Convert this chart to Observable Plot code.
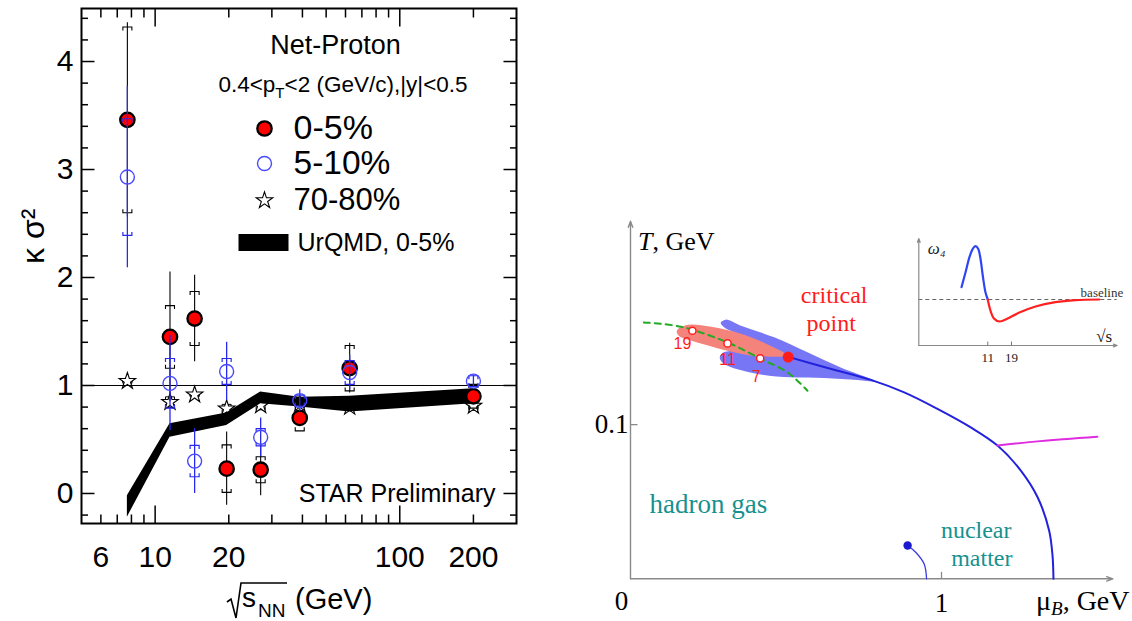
<!DOCTYPE html>
<html><head><meta charset="utf-8">
<script src="https://cdn.jsdelivr.net/npm/d3@7"></script>
<script src="https://cdn.jsdelivr.net/npm/@observablehq/plot@0.6"></script>
<style>
html,body{margin:0;padding:0;background:#fff;}
#wrap{position:relative;width:1132px;height:621px;overflow:hidden;background:#fff;}
#wrap svg{position:absolute;overflow:visible;}
</style></head><body><div id="wrap"></div>
<script>
// ================= DATA: left panel (net-proton kappa*sigma^2) =================
const energies      = [7.7, 11.5, 14.5, 19.6, 27, 39, 62.4, 200];
const central05     = [3.46, 1.45, 1.62, 0.23, 0.22, 0.70, 1.16, 0.90];
const central05Stat = [0.90, 0.60, 0.40, 0.34, 0.24, 0.07, 0.23, 0.05];
const central05Sys  = [0.86, 0.29, 0.25, 0.22, 0.12, 0.12, 0.21, 0.11];
const mid510        = [2.93, 1.02, 0.30, 1.13, 0.52, 0.86, 1.12, 1.04];
const mid510Stat    = [0.84, 0.44, 0.30, 0.27, 0.18, 0.10, 0.16, 0.05];
const mid510Sys     = [0.54, 0.23, 0.145, 0.12, 0.08, 0.05, 0.11, 0.05];
const periph7080    = [1.04, 0.845, 0.915, 0.785, 0.815, 0.83, 0.80, 0.81];
const periph7080Sys = [0.02, 0.05, 0.02, 0.04, 0.04, 0.03, 0.03, 0.04];
const urqmdEnergies = [7.7, 11.5, 19.6, 27, 39, 62.4, 200];
const urqmdLow      = [-0.22, 0.52, 0.63, 0.83, 0.80, 0.755, 0.83];
const urqmdHigh     = [-0.02, 0.645, 0.745, 0.94, 0.89, 0.90, 0.97];
const xMajorTicks = [10, 100];
const xMinorTicks = [6, 7, 8, 9, 20, 30, 40, 50, 60, 70, 80, 90, 200];
const xTickLabels = [6, 10, 20, 100, 200];
const yMajorTicks = [0, 1, 2, 3, 4];
const yMinorTicks = [-0.2, 0.2, 0.4, 0.6, 0.8, 1.2, 1.4, 1.6, 1.8, 2.2, 2.4, 2.6, 2.8, 3.2, 3.4, 3.6, 3.8, 4.2, 4.4];
const yTickLabels = [0, 1, 2, 3, 4];

// ================= DATA: right panel (phase diagram, [muB GeV, T GeV]) =================
const phaseBoundary = [[0.505,0.1441],[0.64,0.1364],[0.773,0.1290],[0.880,0.1209],[0.987,0.1102],[1.094,0.0982],[1.180,0.0864],[1.255,0.0702],[1.309,0.0529],[1.346,0.0313],[1.357,0.015],[1.360,0]];
const freezeOut = [[0.043,0.1663],[0.162,0.1635],[0.312,0.1533],[0.419,0.1426],[0.505,0.1339],[0.569,0.1220]];
const freezeLabels = ["19", "11", "7"];
const freezeMu = [0.199, 0.312, 0.417];
const freezeT = [0.1609, 0.1527, 0.1430];
const criticalPoint = [0.507, 0.1438];
const criticalBlueRegion = [[0.789,0.1280],[0.676,0.1371],[0.569,0.1469],[0.462,0.1566],[0.355,0.1642],[0.306,0.1681],[0.290,0.1661],[0.303,0.1629],[0.371,0.1570],[0.451,0.1486],[0.503,0.1447],[0.419,0.1466],[0.339,0.1479],[0.297,0.1466],[0.287,0.1434],[0.300,0.1395],[0.408,0.1329],[0.515,0.1307],[0.623,0.1303],[0.730,0.1290]];
const criticalRedRegion = [[0.149,0.1609],[0.178,0.1645],[0.259,0.1635],[0.355,0.1590],[0.436,0.1525],[0.506,0.1447],[0.451,0.1441],[0.371,0.1454],[0.274,0.1499],[0.194,0.1545],[0.155,0.1577]];
const magentaLine = [[1.180,0.0864],[1.317,0.0893],[1.501,0.0922]];
const nuclearLine = [[0.891,0.0216],[0.917,0.0172],[0.944,0.0097],[0.952,0]];
const nuclearPoint = [0.891, 0.0216];
const axisArrowsR = [{x1:0,y1:0,x2:0,y2:0.232},{x1:0,y1:0,x2:1.551,y2:0}];
const muTicks = [1];
const tTicks = [0.1];

// ================= DATA: inset (omega_4 vs sqrt(s)) =================
const insetBlueS = [6.0, 6.59, 7.21, 7.78, 8.28, 8.81, 9.30, 9.80, 10.43, 11];
const insetBlueW = [1.23, 2.73, 4.23, 5.07, 5.33, 5.07, 4.07, 2.4, 0.73, 0];
const insetRedS  = [11, 11.7, 12.6, 14.5, 17.2, 22.5, 33.1, 52.5, 83.2, 144.7];
const insetRedW  = [0, -1.1, -1.87, -2.2, -1.93, -1.33, -0.7, -0.27, -0.07, 0];
const insetTicks = [11, 19];
const insetAxes = [{x1:2.24,y1:-4.6,x2:2.24,y2:6.1},{x1:2.24,y1:-4.6,x2:218,y2:-4.6}];

// ================= helpers =================
const SANS = "'Liberation Sans', Arial, Helvetica, sans-serif";
const SERIF = "'Liberation Serif', 'Times New Roman', serif";
const sym = f => ({draw(c){ f(c); }});
const capTop = sym(c=>{c.moveTo(-4.5,3.5);c.lineTo(-4.5,0);c.lineTo(4.5,0);c.lineTo(4.5,3.5);});
const capBot = sym(c=>{c.moveTo(-4.5,-3.5);c.lineTo(-4.5,0);c.lineTo(4.5,0);c.lineTo(4.5,-3.5);});
const tickUp = L => sym(c=>{c.moveTo(0,0);c.lineTo(0,-L);});
const tickDown = L => sym(c=>{c.moveTo(0,0);c.lineTo(0,L);});
const tickRight = L => sym(c=>{c.moveTo(0,0);c.lineTo(L,0);});
const tickLeft = L => sym(c=>{c.moveTo(0,0);c.lineTo(-L,0);});
const swatch = sym(c=>{c.rect(-25,-8.5,50,17);});
const rich = build => () => { const g = d3.create("svg:g"); build(g); return g.node(); };
const MID = {lineAnchor: "middle"};

const rows = energies.map((e,i)=>({e, c:central05[i], cs:central05Stat[i], cy:central05Sys[i],
  m:mid510[i], ms:mid510Stat[i], my:mid510Sys[i], p:periph7080[i], py:periph7080Sys[i]}));
const band = urqmdEnergies.map((e,i)=>({e, lo:urqmdLow[i], hi:urqmdHigh[i]}));
const BLUE = "#2828f0", BLUEC = "#4848ff";
const tk = {stroke:"black", strokeWidth:1.5, fill:"none"};

// ================= LEFT PLOT =================
const left = Plot.plot({
  width: 560, height: 621,
  marginLeft: 81, marginRight: 44, marginTop: 8, marginBottom: 98,
  x: {type: "log", domain: [5, 300], axis: null},
  y: {domain: [-0.278, 4.491], axis: null},
  style: {background: "white", fontFamily: SANS, color: "black"},
  marks: [
    Plot.dot(rows, {x:"e", y:d=>d.p+d.py, symbol:capTop, stroke:"black", fill:"none", strokeWidth:1}),
    Plot.dot(rows, {x:"e", y:d=>d.p-d.py, symbol:capBot, stroke:"black", fill:"none", strokeWidth:1}),
    Plot.dot(rows, {x:"e", y:"p", symbol:"star", r:5.2, stroke:"black", fill:"white", strokeWidth:1.1}),
    Plot.areaY(band, {x:"e", y1:"lo", y2:"hi", fill:"black"}),
    Plot.ruleY([1], {stroke:"black", strokeWidth:1}),
    Plot.ruleX(rows, {x:"e", y1:d=>d.c-d.cs, y2:d=>d.c+d.cs, stroke:"black", strokeWidth:1.1}),
    Plot.dot(rows, {x:"e", y:d=>d.c+d.cy, symbol:capTop, stroke:"black", fill:"none", strokeWidth:1.1}),
    Plot.dot(rows, {x:"e", y:d=>d.c-d.cy, symbol:capBot, stroke:"black", fill:"none", strokeWidth:1.1}),
    Plot.dot(rows, {x:"e", y:"c", r:7.2, fill:"#ff0000", stroke:"black", strokeWidth:2.3}),
    Plot.ruleX(rows, {x:"e", y1:d=>d.m-d.ms, y2:d=>d.m+d.ms, stroke:BLUE, strokeWidth:1.3}),
    Plot.dot(rows, {x:"e", y:d=>d.m+d.my, symbol:capTop, stroke:BLUE, fill:"none", strokeWidth:1.2}),
    Plot.dot(rows, {x:"e", y:d=>d.m-d.my, symbol:capBot, stroke:BLUE, fill:"none", strokeWidth:1.2}),
    Plot.dot(rows, {x:"e", y:"m", r:7, fill:"none", stroke:BLUEC, strokeWidth:1.4}),
    Plot.frame({stroke:"black", strokeWidth:2}),
    Plot.dot(xMajorTicks, {x:d=>d, frameAnchor:"bottom", symbol:tickUp(18), ...tk}),
    Plot.dot(xMinorTicks, {x:d=>d, frameAnchor:"bottom", symbol:tickUp(9), ...tk}),
    Plot.dot(xMajorTicks, {x:d=>d, frameAnchor:"top", symbol:tickDown(18), ...tk}),
    Plot.dot(xMinorTicks, {x:d=>d, frameAnchor:"top", symbol:tickDown(9), ...tk}),
    Plot.dot(yMajorTicks, {y:d=>d, frameAnchor:"left", symbol:tickRight(13), ...tk}),
    Plot.dot(yMinorTicks, {y:d=>d, frameAnchor:"left", symbol:tickRight(6.5), ...tk}),
    Plot.dot(yMajorTicks, {y:d=>d, frameAnchor:"right", symbol:tickLeft(13), ...tk}),
    Plot.dot(yMinorTicks, {y:d=>d, frameAnchor:"right", symbol:tickLeft(6.5), ...tk}),
    Plot.text(xTickLabels, {x:d=>d, text:d=>String(d), frameAnchor:"bottom", dy:34, fontSize:30, fill:"black", ...MID}),
    Plot.text(yTickLabels, {y:d=>d, text:d=>String(d), frameAnchor:"left", dx:-8, textAnchor:"end", fontSize:30, fill:"black", ...MID}),
    Plot.text(["κ σ²"], {frameAnchor:"left", dx:-48, dy:-2, rotate:-90, fontSize:32, fill:"black", ...MID}),
    Plot.text(["Net-Proton"], {frameAnchor:"top-left", dx:254, dy:37, fontSize:27, textAnchor:"middle", fill:"black", ...MID}),
    Plot.dot([0], {frameAnchor:"top-left", dx:183, dy:120, r:7.2, fill:"#ff0000", stroke:"black", strokeWidth:2.3}),
    Plot.text(["0-5%"], {frameAnchor:"top-left", dx:212, dy:120, fontSize:34, textAnchor:"start", fill:"black", ...MID}),
    Plot.dot([0], {frameAnchor:"top-left", dx:183, dy:155, r:7, fill:"none", stroke:BLUEC, strokeWidth:1.4}),
    Plot.text(["5-10%"], {frameAnchor:"top-left", dx:212, dy:155, fontSize:33.5, textAnchor:"start", fill:"black", ...MID}),
    Plot.dot([0], {frameAnchor:"top-left", dx:183, dy:192, symbol:"star", r:5.2, fill:"white", stroke:"black", strokeWidth:1.1}),
    Plot.text(["70-80%"], {frameAnchor:"top-left", dx:212, dy:192, fontSize:31, textAnchor:"start", fill:"black", ...MID}),
    Plot.dot([0], {frameAnchor:"top-left", dx:182, dy:234, symbol:swatch, fill:"black", stroke:"none"}),
    Plot.text(["UrQMD, 0-5%"], {frameAnchor:"top-left", dx:216, dy:234, fontSize:25, textAnchor:"start", fill:"black", ...MID}),
    Plot.text(["STAR Preliminary"], {frameAnchor:"bottom-right", dx:-21, dy:-30, fontSize:25, textAnchor:"end", fill:"black", ...MID}),
    rich(g => {
      const t = g.append("text").attr("x", 343).attr("y", 92).attr("text-anchor","middle")
        .attr("font-size", 22.5).attr("font-family", SANS).attr("fill","black");
      t.append("tspan").text("0.4<p");
      t.append("tspan").attr("font-size", 15).attr("dy", 6).text("T");
      t.append("tspan").attr("dy", -6).text("<2 (GeV/c),|y|<0.5");
    }),
    rich(g => {
      const add = (x, y, s, txt) => g.append("text").attr("x", x).attr("y", y).attr("font-size", s)
        .attr("font-family", SANS).attr("fill", "black").attr("text-anchor", "start").text(txt);
      g.append("path").attr("d", "M227,602 L231,599 L236,618 L241,583 L287,583")
        .attr("fill","none").attr("stroke","black").attr("stroke-width",1.6).attr("stroke-linejoin","miter");
      add(242, 607, 28, "s");
      add(258, 617, 19, "NN");
      add(295, 609, 29, "(GeV)");
    })
  ]
});
left.style.left = "0px"; left.style.top = "0px";
document.getElementById("wrap").appendChild(left);

// ================= RIGHT PLOT =================
const TEAL = "#17918f", CRED = "#ff1c1c";
const fPts = freezeLabels.map((l,i)=>({l, mu:freezeMu[i], T:freezeT[i]}));
const right = Plot.plot({
  width: 562, height: 621,
  marginLeft: 60, marginRight: 4.4, marginTop: 216, marginBottom: 42.7,
  x: {domain: [0, 1.6], axis: null},
  y: {domain: [0, 0.235], axis: null},
  style: {background: "transparent", fontFamily: SERIF, color: "black"},
  marks: [
    Plot.arrow(axisArrowsR, {x1:"x1", y1:"y1", x2:"x2", y2:"y2", stroke:"#8a8a8a", strokeWidth:1.4, headLength:7, headAngle:40}),
    Plot.dot(tTicks, {y:d=>d, frameAnchor:"left", symbol:tickRight(7), stroke:"#8a8a8a", strokeWidth:1.3, fill:"none"}),
    Plot.dot(muTicks, {x:d=>d, frameAnchor:"bottom", symbol:tickUp(7), stroke:"#8a8a8a", strokeWidth:1.3, fill:"none"}),
    Plot.text(tTicks, {y:d=>d, text:d=>String(d), frameAnchor:"left", dx:-2, textAnchor:"end", fontSize:27, fill:"black", ...MID}),
    Plot.text(muTicks, {x:d=>d, text:d=>String(d), frameAnchor:"bottom", dy:25, fontSize:27, fill:"black", ...MID}),
    Plot.text([0], {x:d=>d, text:d=>String(d), frameAnchor:"bottom", dx:-9, dy:23, fontSize:27, fill:"black", ...MID}),
    Plot.line(criticalBlueRegion, {x:d=>d[0], y:d=>d[1], curve:"catmull-rom-closed", fill:"#7777f5", stroke:"none"}),
    Plot.line(criticalRedRegion, {x:d=>d[0], y:d=>d[1], curve:"catmull-rom-closed", fill:"#f4837b", stroke:"none"}),
    Plot.line(phaseBoundary, {x:d=>d[0], y:d=>d[1], curve:"catmull-rom", stroke:"#2222dd", strokeWidth:2}),
    Plot.line(magentaLine, {x:d=>d[0], y:d=>d[1], curve:"catmull-rom", stroke:"#e02ce0", strokeWidth:2}),
    Plot.line(freezeOut, {x:d=>d[0], y:d=>d[1], curve:"catmull-rom", stroke:"#22aa22", strokeWidth:2, strokeDasharray:"6,5"}),
    Plot.line(nuclearLine, {x:d=>d[0], y:d=>d[1], curve:"catmull-rom", stroke:"#3a3ae0", strokeWidth:1.3}),
    Plot.dot([nuclearPoint], {x:d=>d[0], y:d=>d[1], r:4.2, fill:"#1a1ad0", stroke:"none"}),
    Plot.dot(fPts, {x:"mu", y:"T", r:3.6, fill:"white", stroke:CRED, strokeWidth:1.5}),
    Plot.dot([criticalPoint], {x:d=>d[0], y:d=>d[1], r:5.5, fill:CRED, stroke:"none"}),
    Plot.text(fPts.slice(0,1), {x:"mu", y:"T", text:"l", dx:-10, dy:13, fontSize:16, fill:CRED, fontFamily:SANS}),
    Plot.text(fPts.slice(1,2), {x:"mu", y:"T", text:"l", dx:0, dy:16, fontSize:16, fill:CRED, fontFamily:SANS}),
    Plot.text(fPts.slice(2,3), {x:"mu", y:"T", text:"l", dx:-4, dy:19, fontSize:16, fill:CRED, fontFamily:SANS}),
    Plot.text([criticalPoint], {x:d=>d[0], y:d=>d[1], text:()=>"critical", dx:46, dy:-62, fontSize:24, fill:CRED}),
    Plot.text([criticalPoint], {x:d=>d[0], y:d=>d[1], text:()=>"point", dx:43, dy:-34, fontSize:24, fill:CRED}),
    Plot.text(["hadron gas"], {frameAnchor:"bottom-left", dx:19, dy:-74, textAnchor:"start", fontSize:27, fill:TEAL, ...MID}),
    Plot.text(["nuclear"], {frameAnchor:"bottom-left", dx:381, dy:-48, textAnchor:"end", fontSize:24, fill:TEAL, ...MID}),
    Plot.text(["matter"], {frameAnchor:"bottom-left", dx:382, dy:-20, textAnchor:"end", fontSize:24, fill:TEAL, ...MID}),
    rich(g => {
      const t = g.append("text").attr("x", 68).attr("y", 250).attr("font-size", 26).attr("font-family", SERIF)
        .attr("fill","black").attr("text-anchor","start");
      t.append("tspan").attr("font-style","italic").text("T");
      t.append("tspan").text(", GeV");
      const u = g.append("text").attr("x", 466).attr("y", 610).attr("font-size", 28).attr("font-family", SERIF)
        .attr("fill","black").attr("text-anchor","start");
      u.append("tspan").text("μ");
      u.append("tspan").attr("font-size", 19).attr("font-style","italic").attr("dy", 5).text("B");
      u.append("tspan").attr("dy", -5).text(", GeV");
    })
  ]
});
right.style.left = "570px"; right.style.top = "0px";
document.getElementById("wrap").appendChild(right);

// ================= INSET =================
const inset = Plot.plot({
  width: 227, height: 145,
  marginLeft: 13.3, marginRight: 15.3, marginTop: 13, marginBottom: 25,
  x: {type: "log", domain: [2.24, 218], axis: null},
  y: {domain: [-4.6, 6.1], axis: null},
  style: {background: "transparent", fontFamily: SERIF, color: "black"},
  marks: [
    Plot.ruleY([0], {stroke:"#666", strokeWidth:1, strokeDasharray:"4,3"}),
    Plot.arrow(insetAxes, {x1:"x1", y1:"y1", x2:"x2", y2:"y2", stroke:"#8a8a8a", strokeWidth:1.2, headLength:5, headAngle:40}),
    Plot.dot(insetTicks, {x:d=>d, frameAnchor:"bottom", symbol:tickUp(4), stroke:"#777", strokeWidth:1, fill:"none"}),
    Plot.text(insetTicks, {x:d=>d, text:d=>String(d), frameAnchor:"bottom", dy:12, fontSize:13, fill:"#222", ...MID}),
    Plot.line(insetBlueS.map((s,i)=>[s, insetBlueW[i]]), {x:d=>d[0], y:d=>d[1], curve:"catmull-rom", stroke:"#2f45f5", strokeWidth:2.2}),
    Plot.line(insetRedS.map((s,i)=>[s, insetRedW[i]]), {x:d=>d[0], y:d=>d[1], curve:"catmull-rom", stroke:"#ff2020", strokeWidth:2.2}),
    Plot.text(["baseline"], {frameAnchor:"right", dx:6, dy:-6.5, y:()=>0, textAnchor:"end", fontSize:13, fill:"#333", ...MID}),
    Plot.text(["ω₄"], {frameAnchor:"top-left", dx:9, dy:10, textAnchor:"start", fontSize:17, fontStyle:"italic", fill:"#222", ...MID}),
    Plot.text(["√s"], {frameAnchor:"bottom-right", dx:-5, dy:-9, textAnchor:"end", fontSize:17, fill:"#222", ...MID})
  ]
});
inset.style.left = "905px"; inset.style.top = "225px";
document.getElementById("wrap").appendChild(inset);
</script></body></html>
